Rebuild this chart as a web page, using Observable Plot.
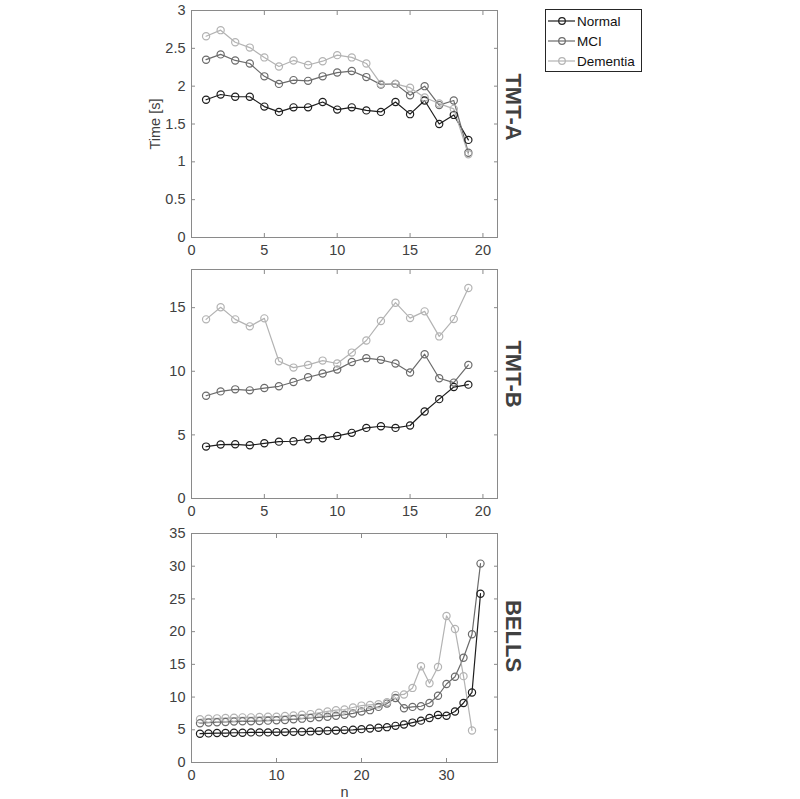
<!DOCTYPE html>
<html><head><meta charset="utf-8">
<script src="https://cdn.jsdelivr.net/npm/d3@7"></script>
<script src="https://cdn.jsdelivr.net/npm/@observablehq/plot@0.6"></script>
<style>
body{margin:0;background:#fff;}
#root{position:relative;width:800px;height:799px;font-family:"Liberation Sans",Arial,Helvetica,sans-serif;}
#root svg{position:absolute;left:0;}
</style></head><body><div id="root"></div>
<script>
const groups = ["Normal", "MCI", "Dementia"];
const groupColors = ["#1e1e1e", "#6b6b6b", "#b3b3b3"];

// TMT-A (n = 1..19)
const tmtA_normal = [1.82,1.89,1.86,1.86,1.73,1.66,1.72,1.72,1.79,1.69,1.72,1.68,1.66,1.79,1.63,1.81,1.50,1.62,1.29];
const tmtA_mci = [2.35,2.42,2.34,2.30,2.13,2.03,2.08,2.07,2.13,2.18,2.20,2.12,2.02,2.03,1.88,2.00,1.75,1.81,1.12];
const tmtA_dementia = [2.66,2.74,2.58,2.51,2.38,2.26,2.34,2.28,2.33,2.41,2.38,2.30,2.03,2.03,1.98,1.85,1.77,1.70,1.10];

// TMT-B (n = 1..19)
const tmtB_normal = [4.08,4.24,4.26,4.18,4.34,4.47,4.50,4.66,4.74,4.92,5.16,5.55,5.68,5.55,5.74,6.84,7.81,8.76,8.95];
const tmtB_mci = [8.08,8.42,8.58,8.50,8.68,8.82,9.16,9.53,9.82,10.13,10.73,11.03,10.90,10.61,9.90,11.34,9.45,9.11,10.50];
const tmtB_dementia = [14.08,15.03,14.08,13.53,14.16,10.79,10.29,10.50,10.84,10.61,11.47,12.42,13.95,15.39,14.18,14.71,12.74,14.10,16.55];

// BELLS (n = 1..34, Dementia 1..33)
const bells_normal = [4.4,4.45,4.5,4.5,4.55,4.55,4.6,4.6,4.6,4.65,4.65,4.7,4.7,4.75,4.8,4.85,4.9,4.95,5.0,5.1,5.2,5.3,5.4,5.6,5.8,6.1,6.4,6.8,7.25,7.15,7.8,9.1,10.7,25.8];
const bells_mci = [6.0,6.1,6.15,6.2,6.25,6.3,6.3,6.35,6.4,6.45,6.5,6.6,6.7,6.8,6.9,7.0,7.15,7.3,7.5,7.8,8.0,8.5,9.0,9.85,8.3,8.5,8.6,9.1,10.2,12.0,13.1,16.0,19.6,30.4];
const bells_dementia = [6.6,6.7,6.75,6.8,6.85,6.9,6.9,6.95,7.0,7.0,7.1,7.2,7.3,7.4,7.6,7.8,8.0,8.1,8.4,8.7,8.8,8.9,9.2,10.3,10.4,11.4,14.7,12.1,14.6,22.4,20.4,13.2,4.9];

const tmtA_yTicks = [0, 0.5, 1, 1.5, 2, 2.5, 3];
const tmtB_yTicks = [0, 5, 10, 15];
const bells_yTicks = [0, 5, 10, 15, 20, 25, 30, 35];
const tmt_xTicks = [0, 5, 10, 15, 20];
const bells_xTicks = [0, 10, 20, 30];

function rows(seriesList) {
  const out = [];
  seriesList.forEach((vals, gi) => vals.forEach((v, i) => out.push({n: i + 1, v, group: groups[gi]})));
  return out;
}

const axisColor = "#8a8a8a";
const textColor = "#404040";
const font = '"Liberation Sans", Arial, Helvetica, sans-serif';
const fmt = d => String(d);
const root = document.getElementById("root");

function panel({data, xDomain, xTicks, yDomain, yTicks, top, height, marginTop, marginBottom, title, titleDy, yLabel, xLabel}) {
  const svg = Plot.plot({
    width: 800, height, marginLeft: 191, marginRight: 303, marginTop, marginBottom,
    style: {fontFamily: font, fontSize: "14.5px", color: textColor, background: "transparent"},
    x: {domain: xDomain},
    y: {domain: yDomain},
    color: {domain: groups, range: groupColors},
    marks: [
      Plot.frame({stroke: axisColor}),
      Plot.axisX({ticks: xTicks, tickSize: 0, tickPadding: 7, fill: textColor, tickFormat: fmt,
        label: xLabel || null, labelAnchor: "center", labelArrow: "none", labelOffset: 34}),
      Plot.axisX({ticks: xTicks, tickSize: -4, stroke: axisColor, tickFormat: () => "", label: null}),
      Plot.axisX({anchor: "top", ticks: xTicks, tickSize: -4, stroke: axisColor, tickFormat: () => "", label: null}),
      Plot.axisY({ticks: yTicks, tickSize: 0, tickPadding: 6, fill: textColor, tickFormat: fmt,
        label: yLabel || null, labelAnchor: "center", labelArrow: "none", labelOffset: 42}),
      Plot.axisY({ticks: yTicks, tickSize: -4, stroke: axisColor, tickFormat: () => "", label: null}),
      Plot.axisY({anchor: "right", ticks: yTicks, tickSize: -4, stroke: axisColor, tickFormat: () => "", label: null}),
      Plot.line(data, {x: "n", y: "v", z: "group", stroke: "group", strokeWidth: 1.2}),
      Plot.dot(data, {x: "n", y: "v", stroke: "group", r: 3.6, strokeWidth: 1.2, fill: "none"}),
      Plot.text([title], {frameAnchor: "right", textAnchor: "middle", lineAnchor: "middle",
        dx: 16, dy: titleDy, rotate: 90, fontSize: 22, fontWeight: "bold", fill: textColor})
    ]
  });
  svg.style.top = top + "px";
  root.appendChild(svg);
}

panel({data: rows([tmtA_normal, tmtA_mci, tmtA_dementia]), xDomain: [0, 21], xTicks: tmt_xTicks,
  yDomain: [0, 3], yTicks: tmtA_yTicks, top: 0, height: 262, marginTop: 10, marginBottom: 25,
  title: "TMT-A", titleDy: -17, yLabel: "Time [s]"});
panel({data: rows([tmtB_normal, tmtB_mci, tmtB_dementia]), xDomain: [0, 21], xTicks: tmt_xTicks,
  yDomain: [0, 18], yTicks: tmtB_yTicks, top: 262, height: 261, marginTop: 7, marginBottom: 25,
  title: "TMT-B", titleDy: -10});
panel({data: rows([bells_normal, bells_mci, bells_dementia]), xDomain: [0, 36], xTicks: bells_xTicks,
  yDomain: [0, 35], yTicks: bells_yTicks, top: 523, height: 276, marginTop: 10, marginBottom: 37,
  title: "BELLS", titleDy: -12, xLabel: "n"});

// Legend
const leg = d3.select(root).append("svg")
  .attr("width", 100).attr("height", 64)
  .style("left", "545px").style("top", "9px")
  .style("font-family", font).style("font-size", "13.5px");
leg.append("rect").attr("x", 0.5).attr("y", 0.5).attr("width", 96).attr("height", 62)
  .attr("fill", "white").attr("stroke", "#262626");
groups.forEach((g, i) => {
  const y = 12 + i * 20;
  leg.append("line").attr("x1", 3).attr("x2", 30).attr("y1", y).attr("y2", y)
    .attr("stroke", groupColors[i]).attr("stroke-width", 1.2);
  leg.append("circle").attr("cx", 17).attr("cy", y).attr("r", 3.3)
    .attr("fill", "none").attr("stroke", groupColors[i]).attr("stroke-width", 1.2);
  leg.append("text").attr("x", 32).attr("y", y).attr("dy", "0.35em").attr("fill", "#111").text(g);
});
</script>
</body></html>
